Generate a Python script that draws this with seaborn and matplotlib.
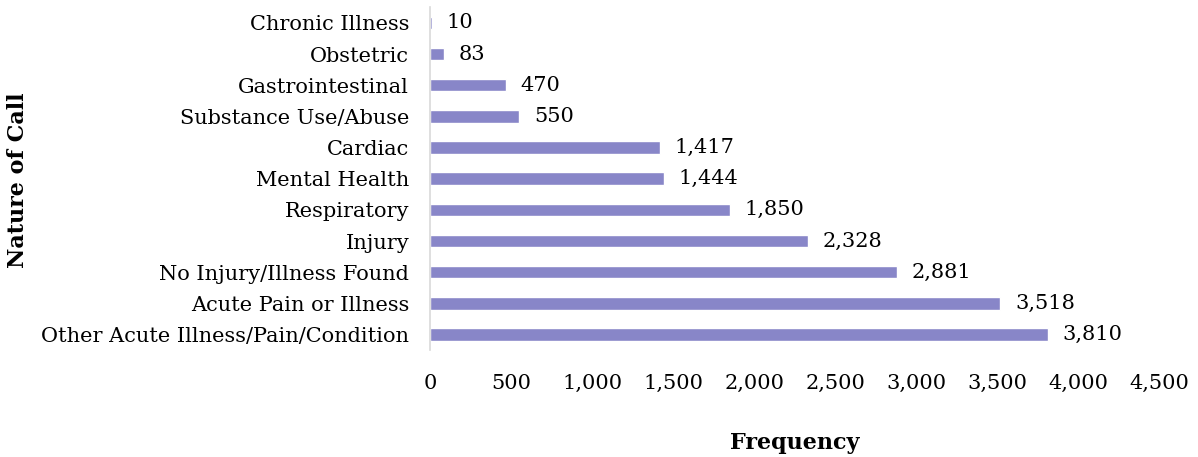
import matplotlib
matplotlib.use('Agg')
import matplotlib.pyplot as plt
import seaborn as sns
import pandas as pd
from matplotlib.ticker import FuncFormatter

categories = ['Other Acute Illness/Pain/Condition', 'Acute Pain or Illness',
              'No Injury/Illness Found', 'Injury', 'Respiratory', 'Mental Health',
              'Cardiac', 'Substance Use/Abuse', 'Gastrointestinal', 'Obstetric',
              'Chronic Illness']
counts = [3810, 3518, 2881, 2328, 1850, 1444, 1417, 550, 470, 83, 10]

df = pd.DataFrame({'call': categories, 'freq': counts})

sns.set_style('white')
plt.rcParams['font.family'] = ['DejaVu Serif']
plt.rcParams['text.color'] = 'black'
plt.rcParams['axes.labelcolor'] = 'black'
plt.rcParams['xtick.color'] = 'black'
plt.rcParams['ytick.color'] = 'black'

fig = plt.figure(figsize=(11.98, 4.57), dpi=100)
ax = fig.add_axes([0.359, 0.234, 0.609, 0.75])

# top-to-bottom order as in the source (Chronic Illness on top)
order = categories[::-1]
sns.barplot(data=df, x='freq', y='call', order=order, color='#8886C8',
            saturation=1, width=0.4, ax=ax)

for i, c in enumerate(order):
    v = counts[categories.index(c)]
    ax.text(v + 90, i, f'{v:,}', va='center', ha='left', fontsize=15)

ax.set_xlim(0, 4500)
ax.set_ylim(10.5, -0.5)
ax.set_xticks(range(0, 4501, 500))
ax.xaxis.set_major_formatter(FuncFormatter(lambda x, p: f'{int(x):,}'))
ax.tick_params(axis='x', labelsize=15, length=0, pad=17)
ax.tick_params(axis='y', labelsize=15, length=0, pad=15)

for s in ['top', 'right', 'bottom']:
    ax.spines[s].set_visible(False)
ax.spines['left'].set_color('#D9D9D9')
ax.spines['left'].set_linewidth(1.2)

ax.set_xlabel('Frequency', fontsize=16, fontweight='bold', labelpad=28)
ax.set_ylabel('')
fig.text(18 / 1198, 1 - 180 / 457, 'Nature of Call', rotation=90, va='center',
         ha='center', fontsize=16, fontweight='bold')

fig.savefig('out.png', dpi=100)
